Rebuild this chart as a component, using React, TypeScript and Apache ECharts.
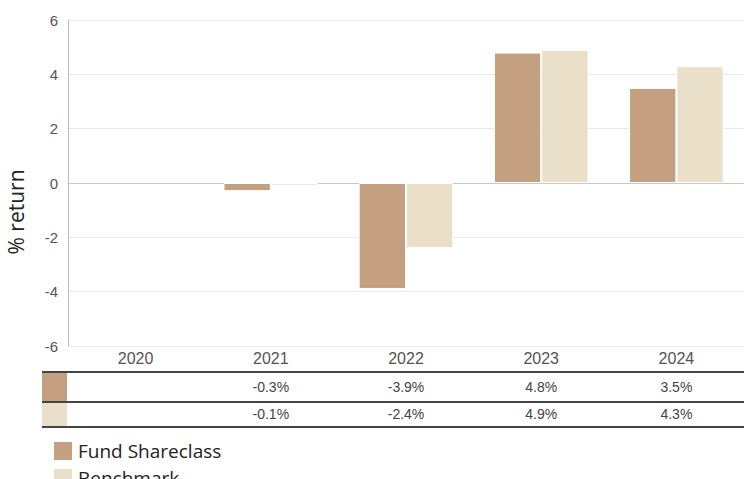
import React, { useEffect, useRef } from "react";
import * as echarts from "echarts";

const years = ["2020", "2021", "2022", "2023", "2024"];
const fund = [null, -0.3, -3.9, 4.8, 3.5];
const bench = [null, -0.1, -2.4, 4.9, 4.3];
const yTicks = { min: -6, max: 6, interval: 2 };
const seriesNames = ["Fund Shareclass", "Benchmark"];
const colors = ["#c49f80", "#eae0c9"];

const fmt = (v: number | null) => (v === null ? "" : v.toFixed(1) + "%");

export default function App() {
  const ref = useRef<HTMLDivElement>(null);
  useEffect(() => {
    const chart = echarts.init(ref.current!, undefined, { renderer: "svg" });
    const catAxisBase = {
      type: "category" as const,
      gridIndex: 0,
      position: "bottom" as const,
      axisTick: { show: false },
      splitLine: { show: false },
    };
    const legendBase = {
      orient: "horizontal",
      left: 47,
      itemWidth: 20,
      itemHeight: 20,
      icon: "rect",
      textStyle: { fontFamily: "Open Sans", fontSize: 19, color: "#222" },
    };
    const tableLabel = { fontFamily: "Liberation Sans, Arial", fontSize: 14, color: "#444", margin: 7 };
    chart.setOption({
      animation: false,
      grid: { left: 68, right: 0, top: 20, bottom: 133 },
      legend: [
        { ...legendBase, top: 435, data: [seriesNames[0]] },
        { ...legendBase, top: 462, data: [seriesNames[1]] },
      ],
      xAxis: [
        {
          ...catAxisBase,
          data: years,
          axisLine: { show: true, lineStyle: { color: "#c8c8c8" } },
          axisLabel: { fontFamily: "Liberation Sans, Arial", fontSize: 16, color: "#555", margin: 4 },
        },
        {
          ...catAxisBase,
          data: fund.map(fmt),
          offset: 27,
          axisLine: { show: false },
          axisLabel: tableLabel,
        },
        {
          ...catAxisBase,
          data: bench.map(fmt),
          offset: 54,
          axisLine: { show: false },
          axisLabel: tableLabel,
        },
      ],
      yAxis: {
        type: "value",
        min: yTicks.min,
        max: yTicks.max,
        interval: yTicks.interval,
        axisLine: { show: true, lineStyle: { color: "#bbb" } },
        axisTick: { show: false },
        splitLine: { lineStyle: { color: "#e8e8e8" } },
        axisLabel: { fontFamily: "Liberation Sans, Arial", fontSize: 15, color: "#555", margin: 10 },
      },
      series: [
        {
          name: seriesNames[0],
          type: "bar",
          data: fund,
          itemStyle: { color: colors[0], borderColor: "#fff", borderWidth: 1 },
          barGap: "0%",
          barCategoryGap: "30%",
        },
        {
          name: seriesNames[1],
          type: "bar",
          data: bench,
          itemStyle: { color: colors[1], borderColor: "#fff", borderWidth: 1 },
          barGap: "0%",
          barCategoryGap: "30%",
        },
      ],
      graphic: [
        {
          type: "text",
          x: 16,
          y: 212,
          rotation: Math.PI / 2,
          style: {
            text: "% return",
            fontFamily: "Open Sans",
            fontSize: 21,
            fill: "#222",
            align: "center",
            verticalAlign: "middle",
          },
        },
        { type: "line", shape: { x1: 42, y1: 372, x2: 744, y2: 372 }, style: { stroke: "#444", lineWidth: 2 } },
        { type: "line", shape: { x1: 42, y1: 402, x2: 744, y2: 402 }, style: { stroke: "#444", lineWidth: 2 } },
        { type: "line", shape: { x1: 42, y1: 427, x2: 744, y2: 427 }, style: { stroke: "#444", lineWidth: 2 } },
        { type: "rect", shape: { x: 42, y: 373, width: 25, height: 28 }, style: { fill: colors[0] } },
        { type: "rect", shape: { x: 42, y: 403, width: 25, height: 23 }, style: { fill: colors[1] } },
      ],
    });
    return () => chart.dispose();
  }, []);
  return <div ref={ref} style={{ width: 744, height: 479, position: "absolute", left: 0, top: 0 }} />;
}
